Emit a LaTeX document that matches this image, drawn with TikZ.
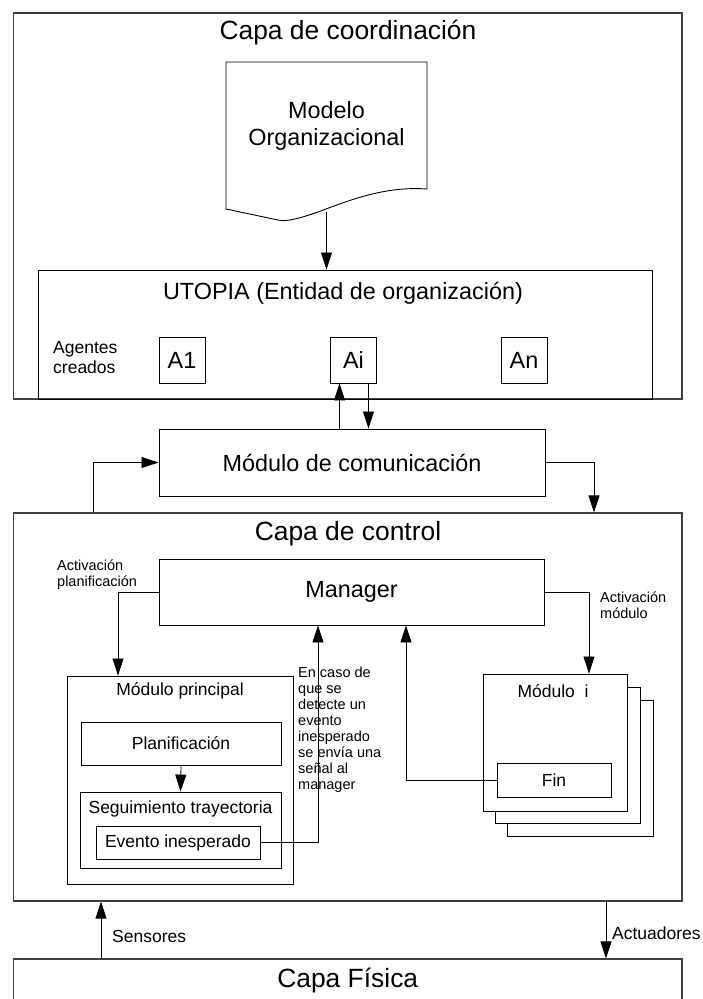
\documentclass[tikz,border=0pt]{standalone}
\usepackage{fontspec}
\setmainfont{Liberation Sans}
\usetikzlibrary{arrows.meta}
\tikzset{
  box/.style={draw, line width=0.9pt, inner sep=0pt},
  capa/.style={draw=black!75, line width=1.2pt, inner sep=0pt},
  wbox/.style={box, fill=white},
  arr/.style={line width=0.8pt, -{Triangle[length=17pt,width=11pt]}},
  conn/.style={line width=0.8pt},
  ftitle/.style={font=\fontsize{26.4}{30}\selectfont, inner sep=0pt},
  fmid/.style={font=\fontsize{23.4}{26.7}\selectfont},
  fsmall/.style={font=\fontsize{17.5}{20}\selectfont},
  ftiny/.style={font=\fontsize{14.5}{16}\selectfont, inner sep=0pt, align=left},
}
\begin{document}
\begin{tikzpicture}[x=1pt,y=-1pt]
\useasboundingbox (0,0) rectangle (703,999);
% ---------------- Capa de coordinacion
\node[capa, minimum width=668.5pt, minimum height=386pt] (coord) at (347.75,206) {};
\node[ftitle] (tcoord) at (348,33) {Capa de coordinación};
% document shape
\draw[line width=0.9pt] (226,62) -- (427,62) -- (427,189)
  .. controls (385,186) and (350,200) .. (318,212)
  .. controls (298,219) and (285,222) .. (278,220)
  -- (226,209) -- cycle;
\node[fmid, align=center, inner sep=0pt] (doc) at (326.5,126) {Modelo\\Organizacional};
\coordinate (docb) at (326.5,212);
% UTOPIA
\node[box, minimum width=614.5pt, minimum height=129pt] (utopia) at (345.25,334.5) {};
\node[fmid, inner sep=0pt] (tutopia) at (343,293) {UTOPIA (Entidad de organización)};
\node[fsmall, align=left, inner sep=0pt, anchor=west] (agentes) at (53,358) {Agentes\\creados};
\node[box, fmid, minimum width=46pt, minimum height=46pt] (a1) at (182,360) {A1};
\node[box, fmid, minimum width=46pt, minimum height=46pt] (ai) at (353.5,360) {Ai};
\node[box, fmid, minimum width=46pt, minimum height=46pt] (an) at (524,360) {An};
\draw[arr] (docb) -- (docb |- utopia.north);
% ---------------- Modulo de comunicacion
\node[box, fmid, minimum width=386pt, minimum height=67pt] (modcom) at (352,462.5) {Módulo de comunicación};
\coordinate (xA) at (339.5,0);
\coordinate (xB) at (368.5,0);
\draw[arr] (xA |- modcom.north) -- (xA |- ai.south);
\draw[arr] (xB |- ai.south) -- (xB |- modcom.north);
% ---------------- Capa de control
\node[capa, minimum width=668.5pt, minimum height=388pt] (ctrl) at (347.75,707) {};
\node[ftitle] (tctrl) at (348,534) {Capa de control};
\coordinate (xC) at (93,0);
\coordinate (xD) at (594,0);
\draw[arr] (xC |- ctrl.north) |- (modcom.west);
\draw[arr] (modcom.east) -| (xD |- ctrl.north);
% Manager
\node[box, fmid, minimum width=385pt, minimum height=66pt] (manager) at (351.5,592) {Manager};
\node[ftiny, anchor=west] (lactp) at (57,575) {Activación\\planificación};
\node[ftiny, anchor=west] (lactm) at (600,605) {Activación\\módulo};
% Modulo principal
\node[box, minimum width=226pt, minimum height=208pt] (mp) at (180,780) {};
\node[fsmall, inner sep=0pt] (tmp) at (180,691) {Módulo principal};
\node[box, fsmall, minimum width=200pt, minimum height=43pt] (plan) at (181,743.5) {Planificación};
\node[box, minimum width=201pt, minimum height=76pt] (seg) at (180.5,830) {};
\node[fsmall, inner sep=0pt] (tseg) at (180.5,809) {Seguimiento trayectoria};
\node[box, fsmall, minimum width=164pt, minimum height=33pt] (evento) at (178,842.5) {Evento inesperado};
\draw[arr] (plan.south) -- (seg.north);
% Modulo i stack
\node[wbox, minimum width=146pt, minimum height=136pt] (modi3) at (580,768) {};
\node[wbox, minimum width=145pt, minimum height=136pt] (modi2) at (567.5,755) {};
\node[wbox, minimum width=144pt, minimum height=137pt] (modi) at (555,742.5) {};
\node[fsmall, inner sep=0pt] (tmodi) at (553,691) {Módulo\ \ i};
\node[box, fsmall, minimum width=114pt, minimum height=34pt] (fin) at (554,780) {Fin};
% connectors manager
\coordinate (xE) at (118,0);
\coordinate (xF) at (589,0);
\coordinate (xG) at (318,0);
\coordinate (xH) at (406,0);
\draw[arr] (manager.west) -| (xE |- mp.north);
\draw[arr] (manager.east) -| (xF |- modi.north);
\draw[arr] (evento.east) -| (xG |- manager.south);
\draw[arr] (fin.west) -| (xH |- manager.south);
\node[ftiny, anchor=west] (lcaso) at (298,730) {En caso de\\que se\\detecte un\\evento\\inesperado\\se envía una\\señal al\\manager};
% ---------------- Capa fisica
\node[capa, ftitle, minimum width=668.5pt, minimum height=44pt] (fis) at (347.75,981) {Capa Física};
\coordinate (xI) at (101,0);
\coordinate (xJ) at (606,0);
\draw[arr] (xI |- fis.north) -- (xI |- ctrl.south);
\draw[arr] (xJ |- ctrl.south) -- (xJ |- fis.north);
\node[fsmall, inner sep=0pt, anchor=west] (lsens) at (112,936) {Sensores};
\node[fsmall, inner sep=0pt, anchor=west] (lact) at (612,933) {Actuadores};
\end{tikzpicture}
\end{document}
